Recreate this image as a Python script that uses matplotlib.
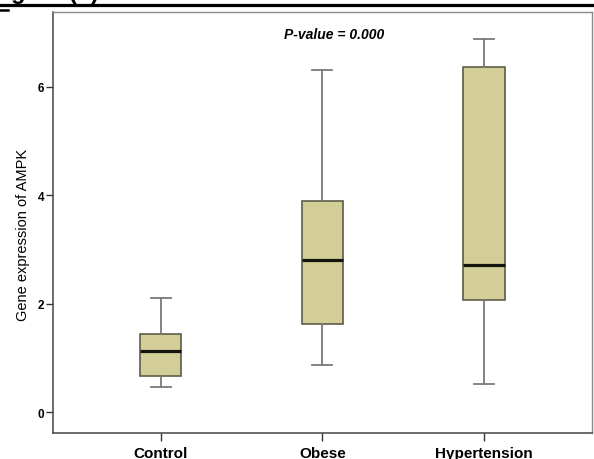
import matplotlib
matplotlib.use("Agg")
import matplotlib.pyplot as plt
from matplotlib.lines import Line2D

plt.rcParams['font.family'] = ['Liberation Sans', 'DejaVu Sans']

categories = ["Control", "Obese", "Hypertension"]
whisker_low = [0.46, 0.87, 0.53]
q1 = [0.67, 1.63, 2.07]
median = [1.13, 2.81, 2.71]
q3 = [1.45, 3.89, 6.37]
whisker_high = [2.10, 6.31, 6.88]
y_ticks = [0, 2, 4, 6]
p_text = "P-value = 0.000"
y_label = "Gene expression of AMPK"

W, H = 594, 460
fig = plt.figure(figsize=(W / 100, H / 100), dpi=100)
ax = fig.add_axes([53 / W, 1 - 433.5 / H, (591.7 - 53) / W, (433.5 - 12.7) / H])

stats = []
for i, c in enumerate(categories):
    stats.append(dict(label=c, whislo=whisker_low[i], q1=q1[i], med=median[i],
                      q3=q3[i], whishi=whisker_high[i], fliers=[]))

ax.bxp(stats, positions=range(len(categories)), widths=0.255, patch_artist=True,
       showfliers=False,
       boxprops=dict(facecolor="#d3ce98", edgecolor="#5e5c48", linewidth=1.2),
       medianprops=dict(color="#151510", linewidth=2.3),
       whiskerprops=dict(color="#7a7a7a", linewidth=1.3),
       capprops=dict(color="#7a7a7a", linewidth=1.3),
       capwidths=0.125)

ax.set_xlim(-0.667, 2.667)
ax.set_ylim(-0.37, 7.38)
ax.set_yticks(y_ticks)
ax.set_yticklabels([str(t) for t in y_ticks], fontsize=8.5, fontweight='bold')
ax.set_xticks(range(len(categories)))
ax.set_xticklabels(categories, fontsize=11, fontweight='bold')
ax.tick_params(axis='y', direction='out', length=5, width=1, pad=1.5, color="#333333")
ax.tick_params(axis='x', direction='out', length=6, width=1, pad=4, color="#333333")
for side in ['top', 'right']:
    ax.spines[side].set_color("#8a8a8a")
    ax.spines[side].set_linewidth(1.0)
for side in ['left', 'bottom']:
    ax.spines[side].set_color("#444444")
    ax.spines[side].set_linewidth(1.1)

ax.text(0.521, 0.947, p_text, transform=ax.transAxes, ha='center', va='center',
        fontsize=10, fontweight='bold', fontstyle='italic')

fig.text(23 / W, 1 - 235 / H, y_label, rotation=90, ha='center', va='center',
         fontsize=10.5)

# top rule and header fragment
fig.add_artist(Line2D([0, 1], [1 - 6 / H, 1 - 6 / H], transform=fig.transFigure,
                      color='black', linewidth=2.3))
fig.add_artist(Line2D([0, 8 / W], [1 - 11 / H, 1 - 11 / H], transform=fig.transFigure,
                      color='black', linewidth=1.8))
fig.text(-10 / W, 1 + 1 / H, "Figure (b)", ha='left', va='baseline',
         fontsize=17, fontweight='bold')

fig.savefig("out.png", dpi=100)
